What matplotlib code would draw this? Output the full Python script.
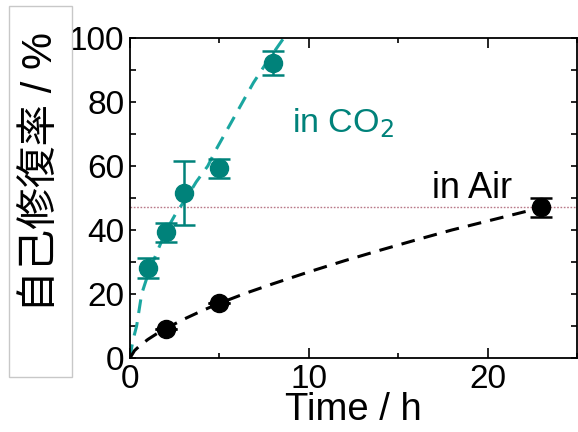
import numpy as np
import matplotlib
matplotlib.use("Agg")
import matplotlib.pyplot as plt
import matplotlib.patches as patches
from matplotlib.ticker import MultipleLocator

plt.rcParams['font.family'] = ['Liberation Sans', 'Noto Sans CJK JP', 'DejaVu Sans']

# measured points
co2_time = [1, 2, 3, 5, 8]
co2_heal = [28.2, 39.3, 51.7, 59.3, 92.1]
co2_err = [3.1, 3.0, 10.0, 3.0, 3.8]

air_time = [2, 5, 23]
air_heal = [9.2, 17.1, 47.1]
air_err = [0.0, 0.0, 2.9]

# dashed guide curves
co2_fit_t = [0, 0.1, 0.2, 0.37, 0.65, 1.0, 1.5, 2.04, 2.6, 3.16, 3.7, 4.35, 4.8, 5.3, 5.8, 6.3, 6.9, 7.6, 8.1, 8.6]
co2_fit_y = [0, 3.5, 6.3, 10, 20, 26, 33, 40, 45.5, 50, 55, 60, 65, 70, 75, 80, 86, 92, 96, 100]

air_fit_t = [0, 0.25, 0.5, 1, 1.5, 2, 3, 4, 5, 6.5, 8, 10, 12, 14, 16, 18, 20, 22, 23, 23.5]
air_fit_y = [0, 2.3, 3.6, 5.8, 7.6, 9.2, 12.1, 14.7, 17.1, 20.3, 23.2, 26.9, 30.4, 33.7, 36.9, 40.0, 42.8, 45.6, 47.0, 47.6]

ref_level = 47.2

teal = '#00827a'
teal_line = '#1aa6a0'

fig = plt.figure(figsize=(5.78, 4.32), dpi=100)
ax = fig.add_axes([130/578, 1 - 358/432, 447/578, 320/432])

ax.axhline(ref_level, color='#b87888', lw=1.0, ls=(0, (1.2, 1.2)), zorder=1)

ax.plot(co2_fit_t, co2_fit_y, color=teal_line, lw=2.2, ls=(0, (4.5, 3)), zorder=2)
ax.plot(air_fit_t, air_fit_y, color='black', lw=2.2, ls=(0, (4.5, 3)), zorder=2)

ax.errorbar(co2_time, co2_heal, yerr=co2_err, fmt='o', color=teal, ms=13,
            elinewidth=1.8, capsize=8, capthick=1.8, zorder=3)
ax.errorbar(air_time, air_heal, yerr=air_err, fmt='o', color='black', ms=13,
            elinewidth=1.8, capsize=8, capthick=1.8, zorder=3)

ax.text(9.05, 70.6, 'in CO$_2$', color=teal, fontsize=24.5, va='baseline', ha='left')
ax.text(16.9, 50.0, 'in Air', color='black', fontsize=26, va='baseline', ha='left')

ax.set_xlim(0, 25)
ax.set_ylim(0, 100)
ax.xaxis.set_major_locator(MultipleLocator(10))
ax.xaxis.set_minor_locator(MultipleLocator(5))
ax.yaxis.set_major_locator(MultipleLocator(20))
ax.yaxis.set_minor_locator(MultipleLocator(10))
ax.tick_params(which='both', direction='in', top=True, right=True, labelsize=24, width=1.2)
ax.tick_params(axis='x', which='major', length=7, pad=4)
ax.tick_params(axis='x', which='minor', length=3.5)
ax.tick_params(axis='y', which='both', length=4.5, pad=4)
for sp in ax.spines.values():
    sp.set_linewidth(1.3)

ax.set_xlabel('Time / h', fontsize=27.5, labelpad=-1.5)

# boxed y label
box = patches.Rectangle((9/578, 1 - 377/432), 63/578, 371/432, transform=fig.transFigure,
                        facecolor='white', edgecolor='#c8c8c8', lw=1.0)
fig.add_artist(box)
fig.text(41/578, 1 - 172/432, '自己修復率 / %', rotation=90, fontsize=30,
         ha='center', va='center')

fig.savefig('out.png', dpi=100)
